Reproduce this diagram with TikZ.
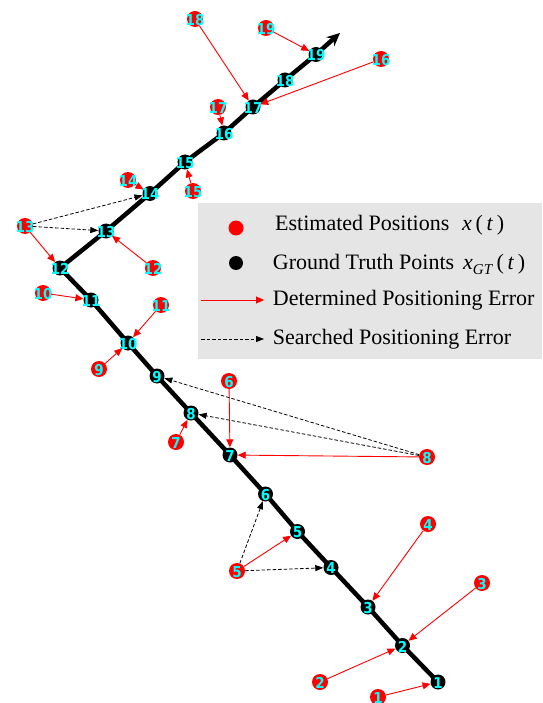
\documentclass[tikz,border=0pt]{standalone}
\usepackage{fontspec}
\setmainfont{Liberation Serif}
\newfontfamily\numfont[FakeStretch=0.9]{DejaVu Sans}
\usetikzlibrary{arrows.meta}
\definecolor{legbg}{RGB}{229,229,229}
\definecolor{numcol}{RGB}{0,255,255}
\begin{document}
\begin{tikzpicture}[x=1pt,y=-1pt,
  gt/.style={circle,fill=black,minimum size=15pt,inner sep=0pt},
  est/.style={circle,fill=red,minimum size=16pt,inner sep=0pt},
  lbl/.style={text=numcol,inner sep=0pt,font=\numfont\bfseries\fontsize{15}{15}\selectfont},
  deter/.style={red,line width=0.9pt,-{Triangle[length=8pt,width=7pt]}},
  searched/.style={black,line width=0.8pt,dash pattern=on 3.5pt off 2pt,-{Triangle[length=8pt,width=6pt]}},
  traj/.style={line width=4.5pt,line join=round,-{Stealth[length=13pt,width=12pt]}},
  legtext/.style={anchor=base west,inner sep=0pt,font=\fontsize{22}{24}\selectfont}]
\useasboundingbox (0,0) rectangle (542,703);
% ground truth coordinates
\foreach \i/\x/\y in {1/438/682,2/402.5/645.5,3/368/607,4/331/567.5,5/297.5/531.5,
  6/265.5/494,7/230/455,8/191/413,9/157/376,10/128/343,11/91/300,12/60/268,
  13/106/231,14/150/193.5,15/185/162,16/224/133,17/253/107,18/285/80,19/316/54.5}
  {\coordinate (p\i) at (\x,\y);}
\coordinate (pend) at (340,33);
% trajectory
\draw[traj] (p1) -- (p2) -- (p3) -- (p4) -- (p5) -- (p6) -- (p7) -- (p8) -- (p9)
  -- (p10) -- (p11) -- (p12) -- (p13) -- (p14) -- (p15) -- (p16) -- (p17) -- (p18)
  -- (p19) -- (pend);
% ground truth nodes
\foreach \i in {1,...,19}{
  \node[gt] (g\i) at (p\i) {};
  \node[lbl] at ([yshift=-1pt]g\i.center) {\i};
}
% estimated nodes
\foreach \i/\x/\y in {1/378/697,2/320/682,3/482/583,4/428/524,5/237/571,
  6/229/381,7/176/442,8/427/457,9/99/369,10/43/293,11/161/305,12/153/268,
  13/25/226,14/128/180,15/193/191,16/381/59,17/218/107,18/195/19,19/266/28}{
  \node[est] (e\i) at (\x,\y) {};
  \node[lbl] at ([yshift=-1pt]e\i.center) {\i};
}
% determined errors
\foreach \a/\b in {1/1,2/2,3/2,4/3,5/5,6/7,7/8,8/7,9/10,10/11,11/10,12/13,
  13/12,14/14,15/15,16/17,17/16,18/17,19/19}
  {\draw[deter] (e\a) -- (g\b);}
% searched errors
\draw[searched] (e5) -- (g6);
\draw[searched] (e5) -- (g4);
\draw[searched] (e8) -- (g8);
\draw[searched] (e8) -- (g9);
\draw[searched] (e13) -- (g13);
\draw[searched] (e13) -- (g14);
% legend
\fill[legbg] (198,203) rectangle (542,359);
\node[est,minimum size=15pt] (legE) at (236,228) {};
\node[gt,minimum size=14pt] (legG) at (236,263) {};
\coordinate (la1) at (201,300);
\coordinate (la2) at (264,300);
\coordinate (lb1) at (201,339);
\coordinate (lb2) at (264,339);
\draw[deter] (la1) -- (la2);
\draw[searched] (lb1) -- (lb2);
\node[legtext] (t1) at (275,230) {Estimated Positions};
\node[legtext] (m1) at (462,230) {\textit{x}\,(\,\textit{t}\,)};
\node[legtext] (t2) at (272.7,269) {Ground Truth Points};
\node[legtext] (m2) at (463,269) {\textit{x}\raisebox{-0.25em}{\fontsize{15}{15}\selectfont\textit{GT}}\,(\,\textit{t}\,)};
\node[legtext] (t3) at (272.7,305) {Determined Positioning Error};
\node[legtext] (t4) at (272.7,344) {Searched Positioning Error};
\end{tikzpicture}
\end{document}
